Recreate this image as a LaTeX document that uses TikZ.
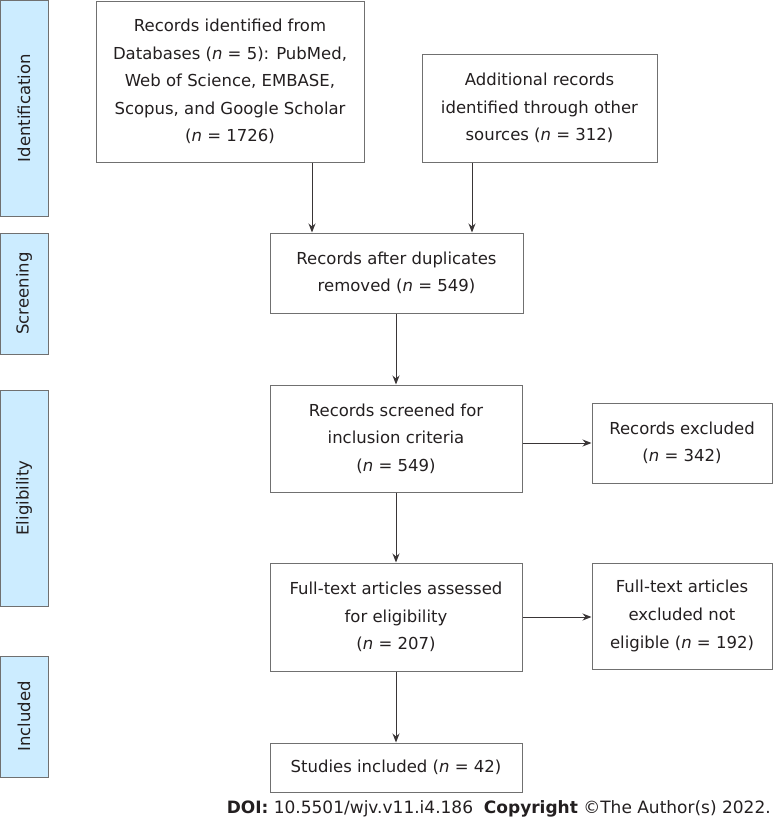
\documentclass[tikz,border=0pt]{standalone}
\usepackage{fontspec}
\setmainfont{DejaVu Sans}
\usetikzlibrary{arrows.meta}

\definecolor{barblue}{RGB}{204,236,255}
\definecolor{boxgray}{RGB}{112,112,112}
\definecolor{inkgray}{RGB}{35,31,32}

\begin{document}
\begin{tikzpicture}[x=1pt,y=-1pt,
    box/.style={draw=boxgray,line width=1pt,align=center,inner sep=0pt,
      text=inkgray,font=\fontsize{16.5}{27.6}\selectfont},
    phase/.style={draw=boxgray,fill=barblue,line width=1pt,rotate=90,
      inner sep=0pt,minimum height=48pt,text=inkgray,font=\fontsize{16.5}{20}\selectfont},
    flow/.style={draw=inkgray!90,line width=1pt,-{Stealth[length=9pt,width=7pt]}}]

    \useasboundingbox (0,0) rectangle (775,827);

    % phase bars on the left
    \node[phase,minimum width=216pt] (ident) at (24,108) {Identification};
    \node[phase,minimum width=121pt] (scr) at (24,293.5) {Screening};
    \node[phase,minimum width=216pt] (elig) at (24,498) {Eligibility};
    \node[phase,minimum width=121pt] (inc) at (24,716.5) {Included};

    % flow boxes
    \node[box,minimum width=268pt,minimum height=161pt] (db) at (230,81.5)
      {Records identified from\\Databases (\textit{n} = 5): PubMed,\\Web of Science, EMBASE,\\Scopus, and Google Scholar\\(\textit{n} = 1726)};
    \node[box,minimum width=235pt,minimum height=108pt] (other) at (539.5,108)
      {Additional records\\identified through other\\sources (\textit{n} = 312)};
    \node[box,minimum width=253pt,minimum height=80pt] (dup) at (396.5,273)
      {Records after duplicates\\removed (\textit{n} = 549)};
    \node[box,minimum width=252pt,minimum height=107pt] (screen) at (396,438.5)
      {Records screened for\\inclusion criteria\\(\textit{n} = 549)};
    \node[box,minimum width=180pt,minimum height=80pt] (excl) at (682,443)
      {Records excluded\\(\textit{n} = 342)};
    \node[box,minimum width=252pt,minimum height=108pt] (full) at (396,617)
      {Full-text articles assessed\\for eligibility\\(\textit{n} = 207)};
    \node[box,minimum width=180pt,minimum height=106pt] (fexcl) at (682,616)
      {Full-text articles\\excluded not\\eligible (\textit{n} = 192)};
    \node[box,minimum width=252pt,minimum height=49pt] (incl) at (396,767.5)
      {Studies included (\textit{n} = 42)};

    % connectors
    \draw[flow] ([xshift=82pt]db.south) -- ([xshift=82pt]db.south |- dup.north);
    \draw[flow] ([xshift=-67.5pt]other.south) -- ([xshift=-67.5pt]other.south |- dup.north);
    \draw[flow] (dup.south -| screen.north) -- (screen.north);
    \draw[flow] (screen.east |- excl.west) -- (excl.west);
    \draw[flow] (screen.south) -- (full.north);
    \draw[flow] (full.east) -- (full.east -| fexcl.west);
    \draw[flow] (full.south) -- (incl.north);

    % footer
    \node[anchor=east,inner sep=0pt,text=inkgray,font=\fontsize{17}{20}\selectfont] (doi) at (771,809)
      {\textbf{DOI:} 10.5501/wjv.v11.i4.186\ \ \textbf{Copyright} ©The Author(s) 2022.};
\end{tikzpicture}
\end{document}
